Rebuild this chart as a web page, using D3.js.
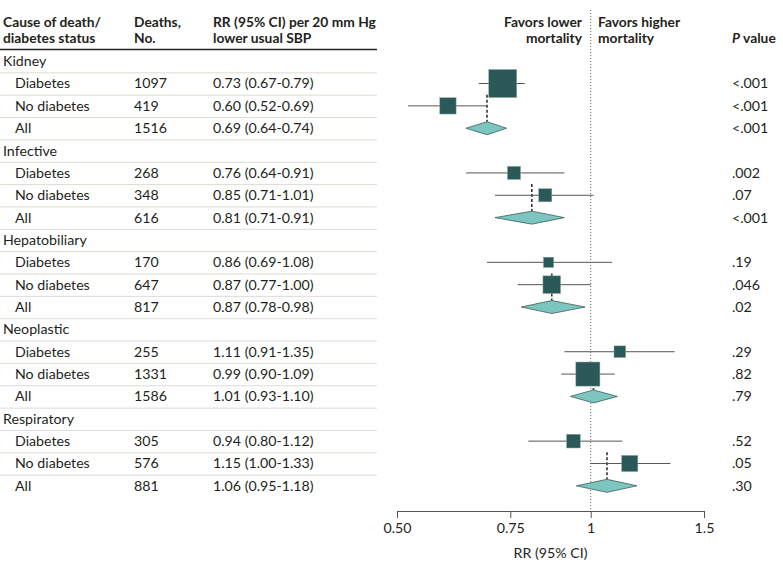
<!DOCTYPE html>
<html>
<head>
<meta charset="utf-8">
<script src="https://cdn.jsdelivr.net/npm/d3@7"></script>
<style>
  body { margin: 0; background: #fff; }
  svg { font-family: Lato, "Liberation Sans", sans-serif; }
</style>
</head>
<body>
<div id="chart"></div>
<script>
// Forest plot data, one entry per cause; subgroups in order Diabetes / No diabetes / All
const causes = ['Kidney', 'Infective', 'Hepatobiliary', 'Neoplastic', 'Respiratory'];
const groups = ['Diabetes', 'No diabetes', 'All'];
const deaths = [[1097, 419, 1516], [268, 348, 616], [170, 647, 817], [255, 1331, 1586], [305, 576, 881]];
const rr = [[0.73, 0.60, 0.69], [0.76, 0.85, 0.81], [0.86, 0.87, 0.87], [1.11, 0.99, 1.01], [0.94, 1.15, 1.06]];
const ciLow = [[0.67, 0.52, 0.64], [0.64, 0.71, 0.71], [0.69, 0.77, 0.78], [0.91, 0.90, 0.93], [0.80, 1.00, 0.95]];
const ciHigh = [[0.79, 0.69, 0.74], [0.91, 1.01, 0.91], [1.08, 1.00, 0.98], [1.35, 1.09, 1.10], [1.12, 1.33, 1.18]];
const pValues = [['<.001', '<.001', '<.001'], ['.002', '.07', '<.001'], ['.19', '.046', '.02'], ['.29', '.82', '.79'], ['.52', '.05', '.30']];
const axisTicks = [0.5, 0.75, 1, 1.5];
const axisTickLabels = ['0.50', '0.75', '1', '1.5'];

const width = 783;
const height = 573;
const textColor = '#231f20';
const boxColor = '#2a5957';
const diamondColor = '#7dc5bf';
const fontSize = '14.2px';

// flatten into table rows
const rows = [];
causes.forEach((c, i) => {
    rows.push({ type: 'header', label: c });
    groups.forEach((g, j) => {
        rows.push({
            type: g === 'All' ? 'pooled' : 'sub',
            label: g,
            cause: i,
            deaths: deaths[i][j],
            rr: rr[i][j],
            lo: ciLow[i][j],
            hi: ciHigh[i][j],
            p: pValues[i][j]
        });
    });
});

const svg = d3.select('#chart').append('svg')
    .attr('width', width)
    .attr('height', height);

const y = d3.scaleBand()
    .domain(d3.range(rows.length))
    .range([50, 50 + rows.length * 22.35]);
const yc = i => y(i) + y.bandwidth() / 2;

const x = d3.scaleLog()
    .domain([0.5, 1.5])
    .range([397, 704]);

// box size from precision of the estimate
const precision = d => 1 / Math.log(d.hi / d.lo);
const boxSize = d3.scaleLinear()
    .domain([0, d3.max(rows.filter(d => d.type === 'sub'), precision)])
    .range([0, 28]);

// Column headers
const header = svg.append('g')
    .style('font-size', '13.8px')
    .style('font-weight', 'bold')
    .attr('fill', textColor);

const hdr = (txt, xx, yy, anchor) => header.append('text')
    .attr('x', xx).attr('y', yy).attr('dy', '0.35em')
    .attr('text-anchor', anchor || 'start')
    .text(txt);

hdr('Cause of death/', 3, 22);
hdr('diabetes status', 3, 38);
hdr('Deaths,', 134, 22);
hdr('No.', 134, 38);
hdr('RR (95% CI) per 20 mm Hg', 213, 22);
hdr('lower usual SBP', 213, 38);
hdr('Favors lower', 582, 22, 'end');
hdr('mortality', 582, 38, 'end');
hdr('Favors higher', 598, 22);
hdr('mortality', 598, 38);
const pv = hdr('', 732, 38);
pv.append('tspan').style('font-style', 'italic').text('P');
pv.append('tspan').text(' value');

svg.append('line')
    .attr('x1', 0).attr('x2', 377)
    .attr('y1', 49.5).attr('y2', 49.5)
    .attr('stroke', '#222')
    .attr('stroke-width', 1.5);

// row separators
svg.append('g').selectAll('line')
    .data(d3.range(1, rows.length))
    .join('line')
    .attr('x1', 0).attr('x2', 377)
    .attr('y1', i => y(i) + 0.5).attr('y2', i => y(i) + 0.5)
    .attr('stroke', '#dcdcd2')
    .attr('stroke-width', 1);

// table text
const table = svg.append('g')
    .style('font-size', fontSize)
    .attr('fill', textColor);

table.selectAll('.label')
    .data(rows)
    .join('text')
    .attr('x', d => d.type === 'header' ? 3 : 15)
    .attr('y', (d, i) => yc(i))
    .attr('dy', '0.35em')
    .text(d => d.label);

const dataRows = rows.map((d, i) => ({ ...d, i })).filter(d => d.type !== 'header');

table.selectAll('.deaths')
    .data(dataRows)
    .join('text')
    .attr('x', 134)
    .attr('y', d => yc(d.i))
    .attr('dy', '0.35em')
    .text(d => d.deaths);

table.selectAll('.rr')
    .data(dataRows)
    .join('text')
    .attr('x', 213)
    .attr('y', d => yc(d.i))
    .attr('dy', '0.35em')
    .text(d => `${d.rr.toFixed(2)} (${d.lo.toFixed(2)}-${d.hi.toFixed(2)})`);

table.selectAll('.pval')
    .data(dataRows)
    .join('text')
    .attr('x', 732)
    .attr('y', d => yc(d.i))
    .attr('dy', '0.35em')
    .text(d => d.p);

// reference line at RR = 1
svg.append('line')
    .attr('x1', x(1)).attr('x2', x(1))
    .attr('y1', 10).attr('y2', 511)
    .attr('stroke', '#666')
    .attr('stroke-width', 1)
    .attr('stroke-dasharray', '1,2');

// Axis
const axis = svg.append('g')
    .attr('transform', 'translate(0,511)')
    .call(d3.axisBottom(x)
        .tickValues(axisTicks)
        .tickFormat((d, i) => axisTickLabels[i])
        .tickSize(7)
        .tickSizeOuter(0));
axis.select('.domain').attr('stroke', '#555');
axis.selectAll('.tick line').attr('stroke', '#555');
axis.selectAll('.tick text')
    .attr('fill', textColor)
    .style('font-size', fontSize)
    .style('font-family', 'Lato, "Liberation Sans", sans-serif')
    .attr('y', 12);

svg.append('text')
    .attr('x', (x.range()[0] + x.range()[1]) / 2)
    .attr('y', 553)
    .attr('dy', '0.35em')
    .attr('text-anchor', 'middle')
    .style('font-size', fontSize)
    .attr('fill', textColor)
    .text('RR (95% CI)');

// dashed line from pooled estimate up through subgroups
const pooled = dataRows.filter(d => d.type === 'pooled');
svg.append('g').selectAll('line')
    .data(pooled)
    .join('line')
    .attr('x1', d => x(d.rr)).attr('x2', d => x(d.rr))
    .attr('y1', d => y(d.i - 1))
    .attr('y2', d => yc(d.i) - 6.5)
    .attr('stroke', '#333')
    .attr('stroke-width', 1.6)
    .attr('stroke-dasharray', '3,2');

// CI lines
const subs = dataRows.filter(d => d.type === 'sub');
svg.append('g').selectAll('line')
    .data(subs)
    .join('line')
    .attr('x1', d => x(d.lo)).attr('x2', d => x(d.hi))
    .attr('y1', d => yc(d.i)).attr('y2', d => yc(d.i))
    .attr('stroke', '#555')
    .attr('stroke-width', 1);

// boxes
svg.append('g').selectAll('rect')
    .data(subs)
    .join('rect')
    .attr('x', d => x(d.rr) - boxSize(precision(d)) / 2)
    .attr('y', d => yc(d.i) - boxSize(precision(d)) / 2)
    .attr('width', d => boxSize(precision(d)))
    .attr('height', d => boxSize(precision(d)))
    .attr('fill', boxColor)
    .attr('stroke', '#8fa9a7')
    .attr('stroke-width', 0.5);

// diamonds
svg.append('g').selectAll('path')
    .data(pooled)
    .join('path')
    .attr('d', d => {
        const cy = yc(d.i);
        return `M${x(d.lo)},${cy}L${x(d.rr)},${cy - 6.5}L${x(d.hi)},${cy}L${x(d.rr)},${cy + 6.5}Z`;
    })
    .attr('fill', diamondColor)
    .attr('stroke', '#3a5f5c')
    .attr('stroke-width', 0.8);
</script>
</body>
</html>
